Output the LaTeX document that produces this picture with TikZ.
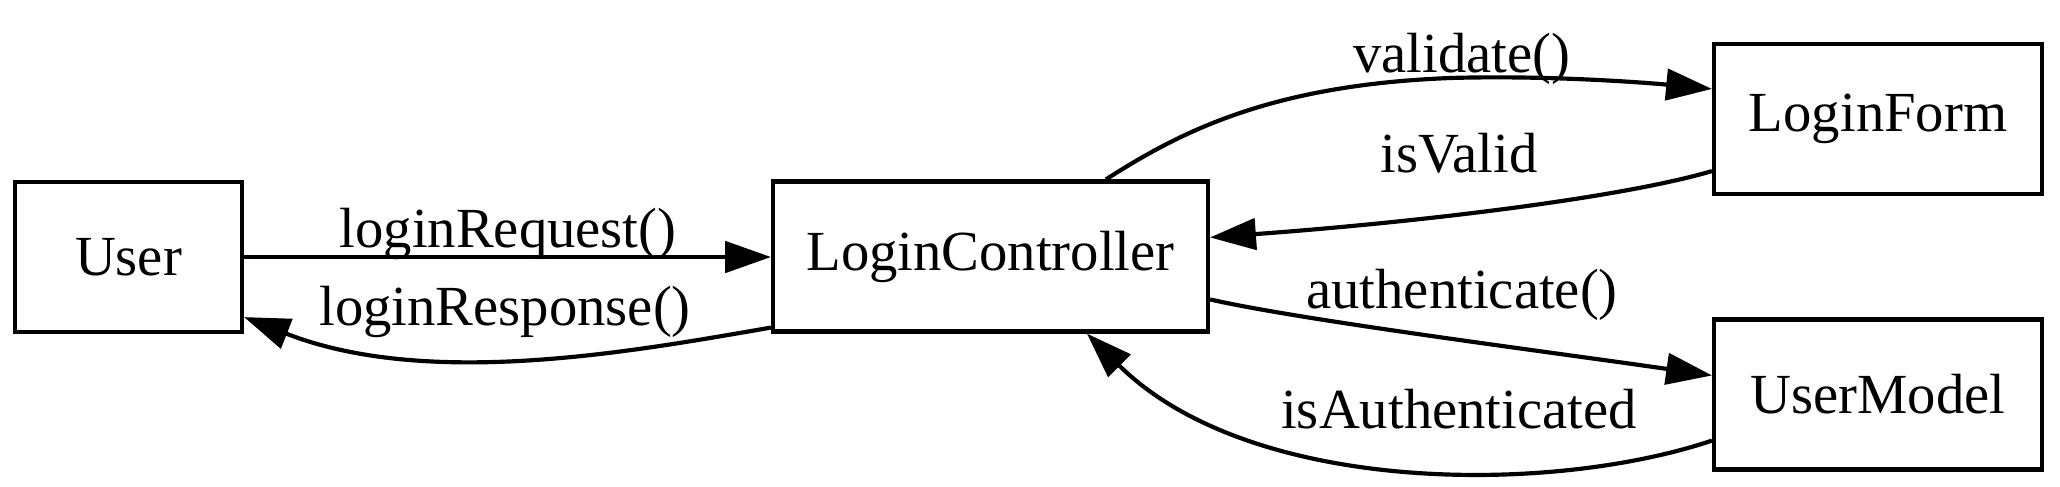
\documentclass[tikz,border=0pt]{standalone}
\usepackage{fontspec}
\setmainfont{Liberation Serif}
\usetikzlibrary{arrows.meta,calc}
\begin{document}
\begin{tikzpicture}[x=0.24pt,y=-0.24pt,
  box/.style={draw, line width=1pt, inner sep=0pt, minimum height=36pt, font=\fontsize{13.6}{16}\selectfont},
  lbl/.style={anchor=base, inner sep=0pt, font=\fontsize{13.6}{16}\selectfont},
  conn/.style={line width=1pt, -{Triangle[length=11pt,width=7.5pt]}}]
\fill[white] (0,0) rectangle (2060,486);
\useasboundingbox (0,0) rectangle (2060,486);
% nodes
\node[box, minimum width=54.5pt] (User) at (128.5,257) {User};
\node[box, minimum width=104.4pt] (LC) at (990.5,256.5) {LoginController};
\node[box, minimum width=78.7pt] (LF) at (1878,119) {LoginForm};
\node[box, minimum width=78.7pt] (UM) at (1878,394.5) {UserModel};
% connectors
\draw[conn] (User.east) -- (User.east -| LC.west);
\draw[conn] ($(LC.south west)+(0,-6)$) .. controls (640,350) and (430,390) .. ($(User.south east)+(0,-17)$);
\draw[conn] ($(LC.north west)+(335,0)$) .. controls (1180,132) and (1270,85) .. (1450,78)
  .. controls (1550,75) and (1650,83) .. ($(LF.north west)+(0,47)$);
\draw[conn] ($(LF.south west)+(0,-25)$) .. controls (1620,198) and (1420,222) .. ($(LC.north east)+(0,58)$);
\draw[conn] ($(LC.north east)+(0,120)$) .. controls (1300,320) and (1550,352) .. ($(UM.north west)+(0,58)$);
\draw[conn] ($(UM.south west)+(0,-31)$) .. controls (1550,495) and (1250,495) .. ($(LC.south west)+(316,0)$);
% labels
\node[lbl] (lreq) at (508,247) {loginRequest()};
\node[lbl] (lresp) at (505,325) {loginResponse()};
\node[lbl] (lval) at (1462,72) {validate()};
\node[lbl] (lisv) at (1459,172) {isValid};
\node[lbl] (lauth) at (1462,308) {authenticate()};
\node[lbl] (lisa) at (1459,428) {isAuthenticated};
\end{tikzpicture}
\end{document}
